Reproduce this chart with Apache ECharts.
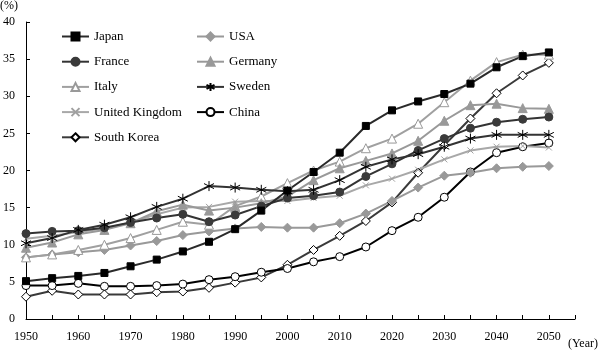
<!DOCTYPE html>
<html>
<head>
<meta charset="utf-8">
<script src="https://cdn.jsdelivr.net/npm/echarts@6/dist/echarts.min.js"></script>
<style>
  html, body { margin: 0; padding: 0; background: #fff; }
  #chart { width: 599px; height: 353px; }
</style>
</head>
<body>
<div id="chart"></div>
<script>
// 年份（每5年一个点）
var years = [1950, 1955, 1960, 1965, 1970, 1975, 1980, 1985, 1990, 1995, 2000,
             2005, 2010, 2015, 2020, 2025, 2030, 2035, 2040, 2045, 2050];

var japan   = [5.1, 5.5, 5.8, 6.2, 7.1, 8.0, 9.1, 10.4, 12.1, 14.6, 17.3, 19.8, 22.4, 26.0, 28.1, 29.3, 30.3, 31.7, 33.9, 35.4, 35.9];
var usa     = [8.3, 8.7, 9.0, 9.3, 9.9, 10.5, 11.3, 11.8, 12.2, 12.4, 12.3, 12.3, 12.9, 14.2, 15.9, 17.7, 19.3, 19.7, 20.3, 20.5, 20.6];
var france  = [11.5, 11.8, 11.9, 12.3, 13.0, 13.6, 14.1, 13.1, 14.0, 15.2, 16.3, 16.6, 17.1, 19.2, 20.9, 22.7, 24.3, 25.7, 26.5, 26.9, 27.2];
var germany = [9.6, 10.3, 11.4, 12.0, 12.9, 14.5, 15.4, 14.6, 15.0, 15.6, 16.5, 18.7, 20.3, 21.3, 22.3, 24.0, 26.7, 28.8, 29.0, 28.4, 28.3];
var italy   = [8.3, 8.7, 9.3, 10.0, 10.9, 12.0, 13.1, 12.7, 15.2, 16.5, 18.3, 20.0, 21.2, 23.0, 24.3, 26.3, 29.2, 32.1, 34.6, 35.6, 35.6];
var sweden  = [10.2, 10.9, 12.0, 12.7, 13.7, 15.1, 16.2, 17.9, 17.7, 17.4, 17.2, 17.4, 18.7, 20.5, 21.5, 22.2, 23.2, 24.3, 24.8, 24.8, 24.8];
var uk      = [10.8, 11.2, 11.7, 12.2, 13.0, 14.1, 15.0, 15.1, 15.8, 15.9, 15.9, 16.3, 16.6, 18.0, 18.9, 20.1, 21.5, 22.7, 23.2, 23.3, 23.1];
var china   = [4.5, 4.5, 4.8, 4.4, 4.4, 4.5, 4.7, 5.3, 5.7, 6.3, 6.8, 7.7, 8.4, 9.7, 11.9, 13.7, 16.4, 19.8, 22.4, 23.2, 23.7];
var korea   = [3.0, 3.8, 3.3, 3.3, 3.3, 3.6, 3.7, 4.2, 4.9, 5.6, 7.3, 9.3, 11.2, 13.2, 15.7, 19.7, 23.4, 27.0, 30.4, 32.8, 34.5];

var yTicks = [0, 5, 10, 15, 20, 25, 30, 35, 40];

var FONT = 'Liberation Serif';

function pts(arr) {
    return years.map(function (y, i) { return [y, arr[i]]; });
}

var starPath = 'path://M5,0L5,10M0.7,2.5L9.3,7.5M0.7,7.5L9.3,2.5';
var crossPath = 'path://M0,0L10,10M0,10L10,0';

function mk(name, data, lineColor, symbol, size, fill, border) {
    return {
        name: name,
        type: 'line',
        data: pts(data),
        symbol: symbol,
        symbolSize: size,
        showAllSymbol: true,
        lineStyle: { color: lineColor, width: 2 },
        itemStyle: { color: fill, borderColor: border, borderWidth: 1 },
        emphasis: { disabled: true },
        animation: false
    };
}

var chartDom = document.getElementById('chart');
var myChart = echarts.init(chartDom);

var option = {
    backgroundColor: '#fff',
    animation: false,
    grid: { left: 26, right: 24, top: 22, bottom: 34 },
    graphic: [
        { type: 'text', left: 0, top: 0, style: { text: '(%)', font: '12px "Liberation Serif"', fill: '#000' } },
        { type: 'text', right: 1, top: 338, style: { text: '(Year)', font: '12px "Liberation Serif"', fill: '#000' } }
    ],
    legend: [
        {
            orient: 'vertical', left: 56, top: 25,
            itemWidth: 27, itemHeight: 10, itemGap: 12.2,
            textStyle: { fontFamily: FONT, fontSize: 13, color: '#000' },
            data: ['Japan', 'France', 'Italy', 'United Kingdom', 'South Korea']
        },
        {
            orient: 'vertical', left: 191, top: 25,
            itemWidth: 27, itemHeight: 10, itemGap: 12.2,
            textStyle: { fontFamily: FONT, fontSize: 13, color: '#000' },
            data: ['USA', 'Germany', 'Sweden', 'China']
        }
    ],
    xAxis: {
        type: 'value',
        min: 1950, max: 2055, interval: 5,
        axisLine: { lineStyle: { color: '#000', width: 1 } },
        axisTick: { inside: true, length: 4, lineStyle: { color: '#000' } },
        axisLabel: {
            margin: 12,
            fontFamily: FONT, fontSize: 12, color: '#000',
            formatter: function (v) { return (v % 10 === 0 && v <= 2050) ? String(v) : ''; }
        },
        splitLine: { show: false }
    },
    yAxis: {
        type: 'value',
        min: yTicks[0], max: yTicks[yTicks.length - 1], interval: 5,
        axisLine: { show: true, lineStyle: { color: '#000', width: 1 } },
        axisTick: { show: true, inside: true, length: 4, lineStyle: { color: '#000' } },
        axisLabel: { margin: 11, fontFamily: FONT, fontSize: 12, color: '#000' },
        splitLine: { show: false }
    },
    series: [
        mk('South Korea', korea, '#3a3a3a', 'diamond', 9, '#fff', '#000'),
        mk('China', china, '#000', 'circle', 8, '#fff', '#000'),
        mk('United Kingdom', uk, '#a8a8a8', crossPath, 6, 'none', '#a0a0a0'),
        mk('USA', usa, '#999', 'diamond', 9, '#999', '#999'),
        mk('Italy', italy, '#a0a0a0', 'triangle', 9, '#fff', '#999'),
        mk('Germany', germany, '#999', 'triangle', 9, '#999', '#999'),
        mk('France', france, '#333', 'circle', 8, '#3a3a3a', '#3a3a3a'),
        mk('Sweden', sweden, '#333', starPath, 10, 'none', '#000'),
        mk('Japan', japan, '#2a2a2a', 'rect', 7, '#000', '#000')
    ]
};

option && myChart.setOption(option);
window.addEventListener('resize', function () {
    myChart && myChart.resize();
});
</script>
</body>
</html>
